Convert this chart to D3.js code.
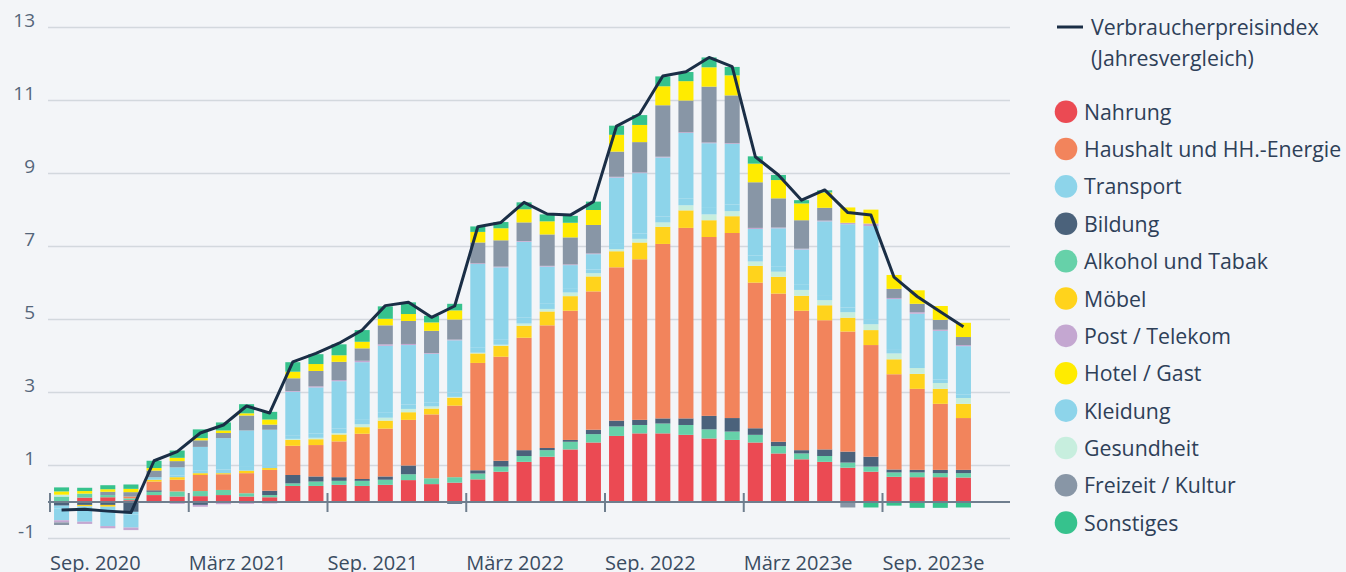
<!DOCTYPE html>
<html>
<head>
<meta charset="utf-8">
<script src="https://cdn.jsdelivr.net/npm/d3@7"></script>
<style>
	body { margin: 0; background: #f3f5f8; }
	svg { display: block; font-family: "Open Sans", Roboto, sans-serif; }
</style>
</head>
<body>
<div id="graph-frame"></div>
<script>
// Monate Sep. 2020 - Dez. 2023e
var months = ["Sep 20","Okt 20","Nov 20","Dez 20","Jan 21","Feb 21","Mär 21","Apr 21","Mai 21","Jun 21",
	"Jul 21","Aug 21","Sep 21","Okt 21","Nov 21","Dez 21","Jan 22","Feb 22","Mär 22","Apr 22",
	"Mai 22","Jun 22","Jul 22","Aug 22","Sep 22","Okt 22","Nov 22","Dez 22","Jan 23","Feb 23",
	"Mär 23","Apr 23","Mai 23","Jun 23","Jul 23","Aug 23","Sep 23","Okt 23","Nov 23","Dez 23"];

var tickMonths = ["Sep 20","Mär 21","Sep 21","Mär 22","Sep 22","Mär 23","Sep 23"];
var tickLabels = ["Sep. 2020","März 2021","Sep. 2021","März 2022","Sep. 2022","März 2023e","Sep. 2023e"];

var yTicks = [-1, 1, 3, 5, 7, 9, 11, 13];

// Beiträge in Prozentpunkten
var nahrung    = [0,0.12,0.13,0.05,0.19,0.15,0.16,0.19,0.15,0.13,0.44,0.44,0.47,0.44,0.47,0.60,0.49,0.53,0.62,0.83,1.10,1.24,1.44,1.63,1.81,1.88,1.88,1.84,1.74,1.70,1.63,1.33,1.17,1.10,0.94,0.83,0.69,0.68,0.68,0.67];
var alkohol    = [0.15,0.11,0.06,0.05,0.09,0.14,0.14,0.14,0.09,0.06,0.07,0.12,0.11,0.14,0.14,0.16,0.16,0.15,0.16,0.14,0.16,0.18,0.21,0.23,0.26,0.23,0.27,0.27,0.25,0.23,0.21,0.20,0.16,0.16,0.14,0.14,0.12,0.13,0.11,0.12];
var bildung    = [-0.10,-0.08,-0.08,-0.27,0.04,0,-0.08,0,0,0.12,0.23,0.14,0.10,0.05,0.09,0.24,0,-0.05,0.09,0.16,0.16,0.06,0.05,0.12,0.16,0.14,0.14,0.18,0.37,0.37,0.18,0.12,0.09,0.18,0.30,0.27,0.08,0.07,0.09,0.09];
var haushalt   = [0,0,0,0.05,0.24,0.32,0.44,0.43,0.55,0.57,0.80,0.86,0.98,1.24,1.31,1.25,1.75,1.96,2.94,2.85,3.08,3.36,3.54,3.79,4.20,4.40,4.78,5.22,4.90,5.07,3.99,4.06,3.82,3.54,3.29,3.06,2.61,2.22,1.81,1.42];
var moebel     = [0,-0.04,-0.05,0,0.05,0.07,0.05,0.03,0.07,0.05,0.16,0.16,0.19,0.18,0.22,0.21,0.16,0.22,0.26,0.30,0.33,0.38,0.40,0.41,0.44,0.46,0.47,0.48,0.46,0.46,0.46,0.46,0.41,0.41,0.38,0.41,0.41,0.41,0.41,0.39];
var gesundheit = [0.05,0,0,0,0,0,0,0,0,0,0.03,0.04,0.04,0.08,0.08,0.09,0.06,0.02,0.02,0.03,0.06,0.07,0.10,0.09,0.06,0.10,0.12,0.14,0.16,0.14,0.12,0.14,0.16,0.14,0.15,0.16,0.16,0.16,0.16,0.16];
var kleidung   = [-0.08,-0.07,-0.09,-0.07,0.02,0.05,0.08,0.10,0.10,0.08,0.10,0.12,0.12,0.14,0.15,0.12,0.10,0.12,0.15,0.15,0.16,0.14,0.12,0.10,0.14,0.15,0.16,0.18,0.20,0.18,0.16,0.15,0.14,0.14,0.13,0.12,0.12,0.11,0.10,0.10];
var transport  = [-0.32,-0.35,-0.44,-0.36,0.05,0.22,0.64,0.86,1.00,0.97,1.19,1.26,1.30,1.56,1.82,1.63,1.34,1.43,2.28,1.97,2.08,1.02,0.63,0.42,1.82,1.65,1.62,1.80,1.75,1.66,0.73,1.04,0.97,2.02,2.28,2.57,1.37,1.38,1.33,1.32];
var post       = [-0.06,-0.06,-0.06,-0.07,-0.03,-0.05,-0.05,-0.06,-0.05,-0.04,0.02,0.03,0.03,0.04,0.04,0.03,0.02,0.02,0.02,0.02,0.02,0.02,0.02,0.02,0.02,0.02,0.02,0.02,0.02,0.02,0.03,0.02,0.02,0.02,0.04,0.07,0.03,0.04,0.03,0.03];
var freizeit   = [-0.07,0,0.09,0.12,0.18,0.17,0.18,0.14,0.41,0.14,0.35,0.42,0.50,0.34,0.52,0.63,0.61,0.55,0.57,0.72,0.51,0.86,0.74,0.78,0.69,0.83,1.41,0.87,1.53,1.31,1.25,0.80,0.78,0.35,-0.15,0,0.25,0.23,0.27,0.22];
var hotel      = [0.09,0.07,0.07,0.09,0.07,0.09,0.06,0.07,0.06,0.14,0.18,0.19,0.18,0.18,0.18,0.19,0.23,0.25,0.29,0.33,0.36,0.36,0.40,0.41,0.46,0.47,0.52,0.53,0.53,0.55,0.51,0.50,0.46,0.42,0.42,0.38,0.38,0.37,0.38,0.39];
var sonstiges  = [0.11,0.09,0.11,0.12,0.20,0.20,0.24,0.22,0.25,0.21,0.26,0.27,0.30,0.32,0.34,0.32,0.18,0.18,0.15,0.17,0.19,0.19,0.19,0.23,0.25,0.27,0.27,0.25,0.27,0.23,0.20,0.14,0.09,0.06,0,-0.15,-0.10,-0.16,-0.16,-0.15];

// Verbraucherpreisindex, Veränderung zum Vorjahresmonat in %
var vpi = [-0.22,-0.20,-0.25,-0.29,1.13,1.38,1.89,2.11,2.63,2.44,3.84,4.07,4.35,4.71,5.38,5.47,5.06,5.37,7.54,7.66,
	8.21,7.89,7.86,8.23,10.30,10.63,11.67,11.79,12.18,11.93,9.46,8.96,8.27,8.55,7.93,7.86,6.16,5.63,5.21,4.80];

// Stapelreihenfolge von unten nach oben
var series = [
	{key: "nahrung",    label: "Nahrung",                  color: "#eb4a53", values: nahrung},
	{key: "alkohol",    label: "Alkohol und Tabak",        color: "#66d1a9", values: alkohol},
	{key: "bildung",    label: "Bildung",                  color: "#4b627b", values: bildung},
	{key: "haushalt",   label: "Haushalt und HH.-Energie", color: "#f2845c", values: haushalt},
	{key: "moebel",     label: "Möbel",                    color: "#ffd31c", values: moebel},
	{key: "gesundheit", label: "Gesundheit",               color: "#c7eede", values: gesundheit},
	{key: "kleidung",   label: "Kleidung",                 color: "#8dd4ea", values: kleidung},
	{key: "transport",  label: "Transport",                color: "#8dd4ea", values: transport},
	{key: "post",       label: "Post / Telekom",           color: "#c4a7d1", values: post},
	{key: "freizeit",   label: "Freizeit / Kultur",        color: "#8896a6", values: freizeit},
	{key: "hotel",      label: "Hotel / Gast",             color: "#ffeb00", values: hotel},
	{key: "sonstiges",  label: "Sonstiges",                color: "#36c28d", values: sonstiges}
];

// Legendenreihenfolge
var legendKeys = ["nahrung","haushalt","transport","bildung","alkohol","moebel","post","hotel","kleidung","gesundheit","freizeit","sonstiges"];

var width = 1346, height = 572;

var table = months.map(function(m, i) {
	var row = {month: m};
	series.forEach(function(s) { row[s.key] = s.values[i]; });
	return row;
});

var stacked = d3.stack()
	.keys(series.map(function(s) { return s.key; }))
	.offset(d3.stackOffsetDiverging)(table);

var x = d3.scaleBand()
	.domain(months)
	.range([50, 975])
	.paddingInner(0.35)
	.paddingOuter(0.175);

var y = d3.scaleLinear()
	.domain([-1, 13])
	.range([538.5, 27.5]);

var svg = d3.select("#graph-frame").append("svg")
	.attr("width", width)
	.attr("height", height);

// Gitternetz
svg.append("g")
	.selectAll("line")
	.data(yTicks)
	.enter()
	.append("line")
	.attr("x1", 48)
	.attr("x2", 1010)
	.attr("y1", function(d) { return y(d); })
	.attr("y2", function(d) { return y(d); })
	.style("stroke", "#d3d8de")
	.style("stroke-width", 1.5);

svg.append("g")
	.selectAll("text")
	.data(yTicks)
	.enter()
	.append("text")
	.attr("x", 35)
	.attr("y", function(d) { return y(d) - 1; })
	.attr("text-anchor", "end")
	.style("font-size", "19px")
	.style("fill", "#55667a")
	.text(function(d) { return d; });

// Balken
var layer = svg.append("g")
	.selectAll("g")
	.data(stacked)
	.enter()
	.append("g")
	.attr("fill", function(d, i) { return series[i].color; });

layer.selectAll("rect")
	.data(function(d) { return d; })
	.enter()
	.append("rect")
	.attr("x", function(d) { return x(d.data.month); })
	.attr("width", x.bandwidth())
	.attr("y", function(d) { return y(Math.max(d[0], d[1])); })
	.attr("height", function(d) { return Math.abs(y(d[0]) - y(d[1])); });

// Nulllinie und Achse
svg.append("line")
	.attr("x1", 48)
	.attr("x2", 1010)
	.attr("y1", y(0))
	.attr("y2", y(0))
	.style("stroke", "#6f7e8e")
	.style("stroke-width", 2);

var tickX = function(m) { return x(m) - x.step() * x.paddingInner() / 2; };

svg.append("g")
	.selectAll("line")
	.data(tickMonths)
	.enter()
	.append("line")
	.attr("x1", tickX)
	.attr("x2", tickX)
	.attr("y1", y(0) - 9)
	.attr("y2", y(0) + 10)
	.style("stroke", "#6f7e8e")
	.style("stroke-width", 2);

svg.append("g")
	.selectAll("text")
	.data(tickMonths)
	.enter()
	.append("text")
	.attr("x", tickX)
	.attr("y", 570)
	.style("font-size", "20px")
	.style("fill", "#3a4c61")
	.text(function(d, i) { return tickLabels[i]; });

// VPI-Linie
var line = d3.line()
	.x(function(d, i) { return x(months[i]) + x.bandwidth() / 2; })
	.y(function(d) { return y(d); });

svg.append("path")
	.datum(vpi)
	.attr("d", line)
	.style("fill", "none")
	.style("stroke", "#1a2e46")
	.style("stroke-width", 3)
	.style("stroke-linejoin", "round");

// Legende
var legend = svg.append("g").style("font-size", "21.3px").style("fill", "#2e4058");

legend.append("line")
	.attr("x1", 1057).attr("x2", 1083)
	.attr("y1", 27).attr("y2", 27)
	.style("stroke", "#1a2e46")
	.style("stroke-width", 3);

legend.append("text").attr("x", 1091).attr("y", 35).text("Verbraucherpreisindex");
legend.append("text").attr("x", 1091).attr("y", 66).text("(Jahresvergleich)");

var item = legend.selectAll(".item")
	.data(legendKeys.map(function(k) { return series.filter(function(s) { return s.key == k; })[0]; }))
	.enter()
	.append("g")
	.attr("class", "item")
	.attr("transform", function(d, i) { return "translate(1066," + (111.7 + i * 37.36) + ")"; });

item.append("circle")
	.attr("r", 11.3)
	.style("fill", function(d) { return d.color; });

item.append("text")
	.attr("x", 18)
	.attr("y", 8)
	.text(function(d) { return d.label; });
</script>
</body>
</html>
